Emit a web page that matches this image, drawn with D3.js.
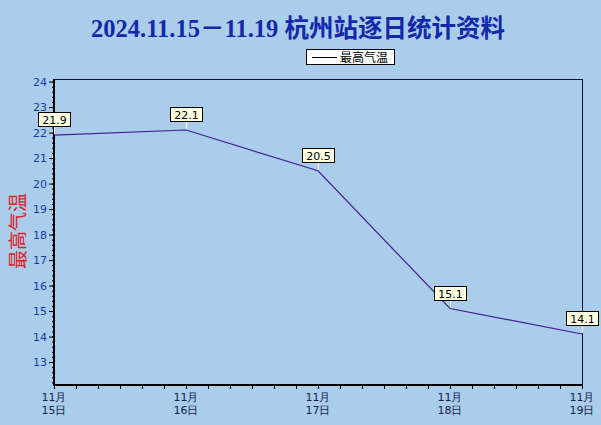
<!DOCTYPE html>
<html><head><meta charset="utf-8">
<script src="https://cdn.jsdelivr.net/npm/d3@7"></script>
<style>
html,body{margin:0;padding:0;background:#a9cdeb;}
svg{display:block;}
</style></head>
<body>
<script>
const months = ["11月","11月","11月","11月","11月"];
const days = ["15日","16日","17日","18日","19日"];
const values = [21.9, 22.1, 20.5, 15.1, 14.1];
const yTicks = [13,14,15,16,17,18,19,20,21,22,23,24];
const seriesName = "最高气温";
const title = "2024.11.15－11.19 杭州站逐日统计资料";

const W = 601, H = 425;
const L = 54, R = 582, T = 79, B = 385;
const svg = d3.select("body").append("svg").attr("width", W).attr("height", H);
svg.append("rect").attr("width", W).attr("height", H).attr("fill", "#a9cdeb");

const x = d3.scaleLinear().domain([0, values.length - 1]).range([L, R]);
const y = d3.scaleLinear().domain([d3.min(values) - 2, d3.max(values) + 2]).range([B, T]);

// title
svg.append("text").attr("x", 298).attr("y", 37).attr("text-anchor", "middle")
  .attr("font-family", "'Liberation Serif','Times New Roman','Noto Sans CJK SC',serif")
  .attr("font-weight", "bold").attr("font-size", 24.5).attr("fill", "#1428aa").text(title);

// legend
const lg = svg.append("g");
lg.append("rect").attr("x", 306.5).attr("y", 49.5).attr("width", 88).attr("height", 15)
  .attr("fill", "#fff").attr("stroke", "#000");
lg.append("line").attr("x1", 312).attr("x2", 337).attr("y1", 57.5).attr("y2", 57.5).attr("stroke", "#000");
lg.append("text").attr("x", 340).attr("y", 62).attr("font-family", "'Noto Sans CJK SC',sans-serif")
  .attr("font-size", 12).attr("fill", "#000").text(seriesName);

// plot frame (top/right thin)
svg.append("line").attr("x1", L).attr("x2", R + 0.5).attr("y1", T + 0.5).attr("y2", T + 0.5).attr("stroke", "#0a1030");
svg.append("line").attr("x1", R + 0.5).attr("x2", R + 0.5).attr("y1", T).attr("y2", B).attr("stroke", "#0a1030");

// y axis
const minorY = d3.range(Math.ceil(y.domain()[0] * 5), Math.floor(y.domain()[1] * 5) + 1).map(d => d / 5);
svg.append("g").attr("transform", `translate(${L},0)`)
  .call(d3.axisLeft(y).tickValues(minorY).tickSize(2).tickFormat(""))
  .call(g => g.select(".domain").remove())
  .call(g => g.selectAll("line").attr("stroke", "#000"));
const ya = svg.append("g").attr("transform", `translate(${L},0)`)
  .call(d3.axisLeft(y).tickValues(yTicks).tickSize(5).tickPadding(2).tickFormat(d3.format("d")));
ya.select(".domain").remove();
ya.selectAll("line").attr("stroke", "#000");
ya.selectAll("text").attr("font-family", "'DejaVu Sans',sans-serif").attr("font-size", 11).attr("fill", "#1a3aa0");
svg.append("line").attr("x1", L).attr("x2", L).attr("y1", T).attr("y2", B + 1).attr("stroke", "#000").attr("stroke-width", 2);

// x axis
const minorX = d3.range(0, (values.length - 1) * 6 + 1).map(d => d / 6);
svg.append("g").attr("transform", `translate(0,${B})`)
  .call(d3.axisBottom(x).tickValues(minorX).tickSize(4).tickFormat(""))
  .call(g => g.select(".domain").remove())
  .call(g => g.selectAll("line").attr("stroke", "#000"));
svg.append("line").attr("x1", L - 1).attr("x2", R + 1).attr("y1", B).attr("y2", B).attr("stroke", "#000").attr("stroke-width", 2);
const xl = svg.append("g");
values.forEach((v, i) => {
  const t = xl.append("text").attr("x", x(i)).attr("text-anchor", "middle")
    .attr("font-family", "'DejaVu Sans',sans-serif").attr("font-size", 11).attr("fill", "#14204a");
  t.append("tspan").attr("x", x(i)).attr("y", 401).text(months[i]);
  t.append("tspan").attr("x", x(i)).attr("y", 414).text(days[i]);
});

// y axis title
svg.append("text").attr("transform", `translate(25,${231}) rotate(-90)`).attr("text-anchor", "middle")
  .attr("font-family", "'Noto Sans CJK SC',sans-serif").attr("font-size", 19).attr("fill", "#e0202a")
  .text(seriesName);

// line
svg.append("path").datum(values)
  .attr("d", d3.line().x((d, i) => x(i)).y(d => y(d)))
  .attr("fill", "none").attr("stroke", "#4a1a96").attr("stroke-width", 1.2);

// data labels
const lab = svg.append("g");
values.forEach((v, i) => {
  const px = x(i), py = y(v);
  lab.append("line").attr("x1", px + 0.5).attr("x2", px + 0.5).attr("y1", py - 1).attr("y2", py - 9)
    .attr("stroke", "#ffffff");
  const w = 32, h = 14;
  lab.append("rect").attr("x", Math.round(px - w / 2) + 0.5).attr("y", Math.round(py - 9 - h) + 0.5)
    .attr("width", w).attr("height", h).attr("fill", "#ffffe1").attr("stroke", "#000");
  lab.append("text").attr("x", px + 0.5).attr("y", Math.round(py - 9 - h) + 11.5).attr("text-anchor", "middle")
    .attr("font-family", "'DejaVu Sans',sans-serif").attr("font-size", 11).attr("fill", "#000")
    .text(d3.format(".1f")(v));
});
</script>
</body></html>
